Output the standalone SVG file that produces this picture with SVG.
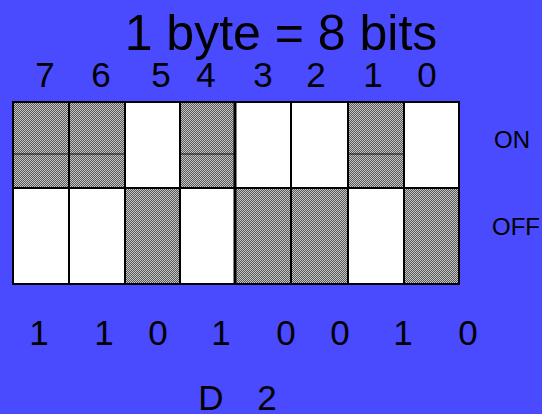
<svg xmlns="http://www.w3.org/2000/svg" width="542" height="414" viewBox="0 0 542 414">
<defs>
<style>
text{font-family:"Liberation Sans",Arial,sans-serif;fill:#000}
.t{font-size:50px}
.d{font-size:35px;text-anchor:middle}
.s{font-size:24px}
.w{fill:#fff;stroke:#000;stroke-width:2}
.g{fill:url(#dith);stroke:#000;stroke-width:2}
.m{stroke:#111;stroke-width:1.2}
</style>
<pattern id="dith" width="2" height="2" patternUnits="userSpaceOnUse">
<rect width="2" height="2" fill="#5a5a5a"/>
<rect x="0" y="0" width="1" height="1" fill="#c4c4c4"/>
<rect x="1" y="1" width="1" height="1" fill="#c4c4c4"/>
</pattern>
</defs>
<rect width="542" height="414" fill="#4a4aff"/>
<text class="t" x="281" y="50" text-anchor="middle">1 byte = 8 bits</text>
<g id="bitnums">
<text class="d" x="45" y="87">7</text>
<text class="d" x="101" y="87">6</text>
<text class="d" x="161" y="87">5</text>
<text class="d" x="206" y="87">4</text>
<text class="d" x="263" y="87">3</text>
<text class="d" x="316" y="87">2</text>
<text class="d" x="373" y="87">1</text>
<text class="d" x="427" y="87">0</text>
</g>
<g id="on-row">
<rect class="g" x="13" y="102" width="56" height="86"/>
<rect class="g" x="69" y="102" width="56" height="86"/>
<rect class="w" x="125" y="102" width="55" height="86"/>
<rect class="g" x="180" y="102" width="55" height="86"/>
<rect class="w" x="235" y="102" width="56" height="86"/>
<rect class="w" x="291" y="102" width="57" height="86"/>
<rect class="g" x="348" y="102" width="56" height="86"/>
<rect class="w" x="404" y="102" width="55" height="86"/>
<line class="m" x1="13" y1="154" x2="125" y2="154"/>
<line class="m" x1="180" y1="154" x2="235" y2="154"/>
<line class="m" x1="348" y1="154" x2="404" y2="154"/>
</g>
<g id="off-row">
<rect class="w" x="13" y="188" width="56" height="96"/>
<rect class="w" x="69" y="188" width="56" height="96"/>
<rect class="g" x="125" y="188" width="55" height="96"/>
<rect class="w" x="180" y="188" width="55" height="96"/>
<rect class="g" x="235" y="188" width="56" height="96"/>
<rect class="g" x="291" y="188" width="57" height="96"/>
<rect class="w" x="348" y="188" width="56" height="96"/>
<rect class="g" x="404" y="188" width="55" height="96"/>
</g>
<line x1="235" y1="102" x2="235" y2="284" stroke="#000" stroke-width="3"/>
<text class="s" x="494" y="148">ON</text>
<text class="s" x="492" y="235">OFF</text>
<g id="values">
<text class="d" x="39" y="345">1</text>
<text class="d" x="104" y="345">1</text>
<text class="d" x="158" y="345">0</text>
<text class="d" x="221" y="345">1</text>
<text class="d" x="286" y="345">0</text>
<text class="d" x="340" y="345">0</text>
<text class="d" x="403" y="345">1</text>
<text class="d" x="468" y="345">0</text>
</g>
<text class="d" x="211" y="410">D</text>
<text class="d" x="267" y="410">2</text>
</svg>
